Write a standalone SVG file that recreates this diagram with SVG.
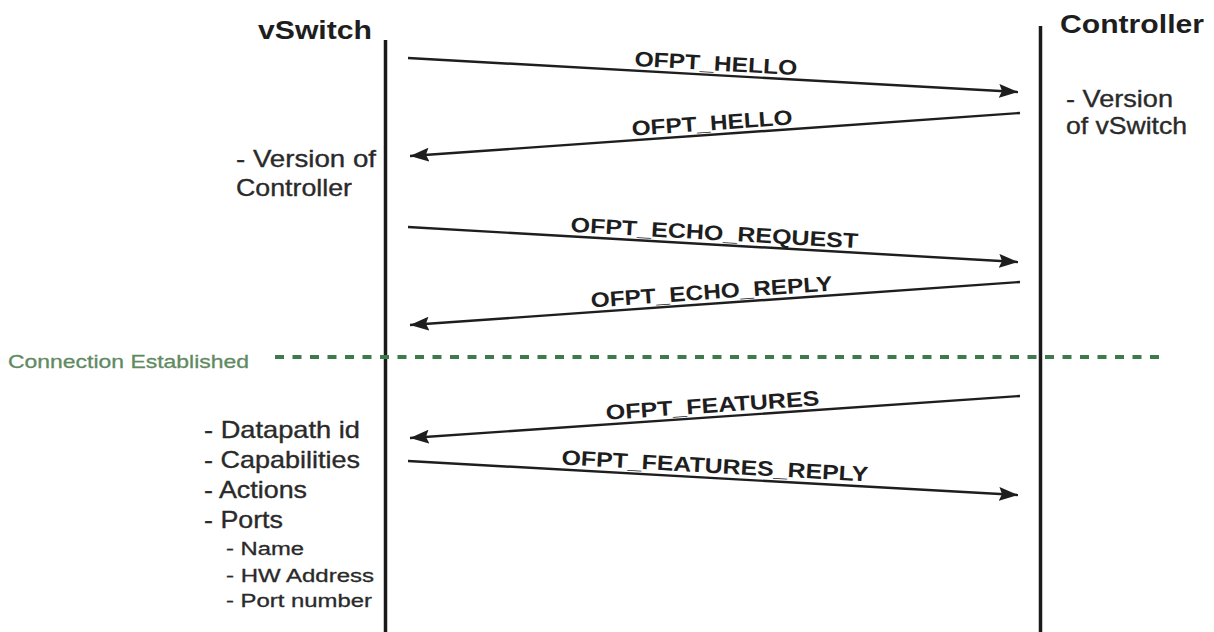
<svg xmlns="http://www.w3.org/2000/svg" width="1214" height="632" viewBox="0 0 1214 632">
  <style>
    .head { font-family: "Liberation Sans", Arial, sans-serif; font-weight: bold; font-size: 25px; fill: #1e1e1e; }
    .note { font-family: "Liberation Sans", Arial, sans-serif; font-size: 24px; fill: #2a2a2a; stroke: #2a2a2a; stroke-width: 0.35; }
    .sub { font-family: "Liberation Sans", Arial, sans-serif; font-size: 18px; fill: #2a2a2a; stroke: #2a2a2a; stroke-width: 0.3; }
    .msg { font-family: "Liberation Sans", Arial, sans-serif; font-weight: bold; font-size: 21px; fill: #1e1e1e; }
    .life { stroke: #1a1a1a; stroke-width: 3.5; fill: none; }
    .arrow { stroke: #1e1e1e; stroke-width: 2.4; fill: none; marker-end: url(#head); }
    .state { stroke: #3e7a4a; stroke-width: 4; stroke-dasharray: 9 8.5; fill: none; }
    .stateText { font-family: "Liberation Sans", Arial, sans-serif; font-size: 19px; fill: #5f8a62; stroke: #5f8a62; stroke-width: 0.3; }
  </style>
  <defs>
    <marker id="head" markerUnits="userSpaceOnUse" markerWidth="20" markerHeight="14" refX="19" refY="7" orient="auto">
      <path d="M0,0 L19,7 L0,14 L3,7 z" fill="#1e1e1e"/>
    </marker>
  </defs>

  <rect width="1214" height="632" fill="#ffffff"/>

  <!-- switch side -->
  <g id="vswitch">
    <line class="life" x1="385.5" y1="40" x2="385.5" y2="632"/>
    <text class="head" x="258" y="39" textLength="114" lengthAdjust="spacingAndGlyphs">vSwitch</text>
    <text class="note" x="236" y="167" textLength="140" lengthAdjust="spacingAndGlyphs">- Version of</text>
    <text class="note" x="236" y="196" textLength="116" lengthAdjust="spacingAndGlyphs">Controller</text>
  </g>

  <!-- controller side -->
  <g id="controller">
    <line class="life" x1="1040.5" y1="26" x2="1040.5" y2="632"/>
    <text class="head" x="1060" y="33" textLength="144" lengthAdjust="spacingAndGlyphs">Controller</text>
    <text class="note" x="1066" y="107" textLength="107" lengthAdjust="spacingAndGlyphs">- Version</text>
    <text class="note" x="1066" y="134" textLength="121" lengthAdjust="spacingAndGlyphs">of vSwitch</text>
  </g>

  <!-- features reported by the switch -->
  <g id="features-list">
    <text class="note" x="204" y="438" textLength="156" lengthAdjust="spacingAndGlyphs">- Datapath id</text>
    <text class="note" x="204" y="468" textLength="156" lengthAdjust="spacingAndGlyphs">- Capabilities</text>
    <text class="note" x="204" y="498" textLength="103" lengthAdjust="spacingAndGlyphs">- Actions</text>
    <text class="note" x="204" y="528" textLength="79" lengthAdjust="spacingAndGlyphs">- Ports</text>
    <text class="sub" x="226" y="555" textLength="78" lengthAdjust="spacingAndGlyphs">- Name</text>
    <text class="sub" x="226" y="582" textLength="148" lengthAdjust="spacingAndGlyphs">- HW Address</text>
    <text class="sub" x="226" y="607" textLength="146" lengthAdjust="spacingAndGlyphs">- Port number</text>
  </g>

  <!-- connection state marker -->
  <g id="connection-established">
    <text class="stateText" x="8" y="368" textLength="241" lengthAdjust="spacingAndGlyphs">Connection Established</text>
    <line class="state" x1="275" y1="357" x2="1162" y2="357"/>
  </g>

  <!-- message exchange -->
  <g id="connectors">
    <line class="arrow" x1="408" y1="58" x2="1018" y2="92"/>
    <text class="msg" transform="translate(715.5 70.5) rotate(3.19)" x="0" y="0" text-anchor="middle" textLength="163" lengthAdjust="spacingAndGlyphs">OFPT_HELLO</text>

    <line class="arrow" x1="1020" y1="113" x2="410" y2="156"/>
    <text class="msg" transform="translate(712.5 130) rotate(-4.03)" x="0" y="0" text-anchor="middle" textLength="161" lengthAdjust="spacingAndGlyphs">OFPT_HELLO</text>

    <line class="arrow" x1="408" y1="227" x2="1018" y2="262"/>
    <text class="msg" transform="translate(714 240) rotate(3.28)" x="0" y="0" text-anchor="middle" textLength="288" lengthAdjust="spacingAndGlyphs">OFPT_ECHO_REQUEST</text>

    <line class="arrow" x1="1020" y1="282" x2="410" y2="325"/>
    <text class="msg" transform="translate(712 299) rotate(-4.03)" x="0" y="0" text-anchor="middle" textLength="242" lengthAdjust="spacingAndGlyphs">OFPT_ECHO_REPLY</text>

    <line class="arrow" x1="1020" y1="396" x2="410" y2="438"/>
    <text class="msg" transform="translate(713 412.5) rotate(-3.94)" x="0" y="0" text-anchor="middle" textLength="214" lengthAdjust="spacingAndGlyphs">OFPT_FEATURES</text>

    <line class="arrow" x1="408" y1="461" x2="1018" y2="495"/>
    <text class="msg" transform="translate(714.5 473) rotate(3.19)" x="0" y="0" text-anchor="middle" textLength="307" lengthAdjust="spacingAndGlyphs">OFPT_FEATURES_REPLY</text>
  </g>
</svg>
